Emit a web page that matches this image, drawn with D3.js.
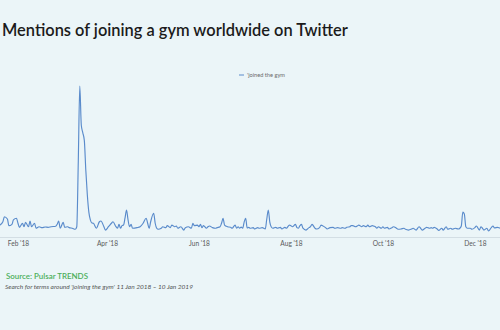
<!DOCTYPE html>
<html>
<head>
<meta charset="utf-8">
<script src="https://cdn.jsdelivr.net/npm/d3@7"></script>
<style>
  html, body { margin: 0; padding: 0; background: #ebf5f8; }
  svg { display: block; }
</style>
</head>
<body>
<svg id="chart" width="500" height="330"></svg>
<script>
// ---- data ----
const startDate = "2018-01-11";
const endDate = "2019-01-10";
const title = "Mentions of joining a gym worldwide on Twitter";
const seriesName = "'joined the gym";
const sourceText = "Source: Pulsar TRENDS";
const noteText = "Search for terms around 'joining the gym' 11 Jan 2018 \u2013 10 Jan 2019";
const tickDates = ["2018-02-01", "2018-04-01", "2018-06-01", "2018-08-01", "2018-10-01", "2018-12-01"];

// days since 11 Jan 2018
const dayIndex = [0,3,6,9,11,12,14,15,17,18,20,21,22,24,25,26,28,29,30,32,33,35,37,39,41,43,46,47,48,49,51,52,54,55,57,59,60,61,62,63,64,65,66,67,68,69,70,71,73,75,76,78,79,81,83,84,86,87,88,89,90,91,92,93,94,95,96,97,100,102,104,106,107,108,109,111,112,113,114,116,117,119,120,122,123,125,126,127,129,131,132,134,136,137,138,140,141,142,143,144,146,147,148,150,152,153,155,156,157,158,160,162,163,165,166,167,168,169,170,171,172,173,174,175,177,178,180,181,183,185,186,187,188,189,190,192,193,195,196,198,199,201,202,203,205,206,207,208,209,210,212,214,215,216,218,219,221,222,223,225,226,228,230,231,233,235,236,238,239,241,242,243,245,246,247,249,250,252,253,254,256,257,258,259,260,262,263,264,266,267,269,270,272,273,275,277,278,280,282,283,285,287,288,289,291,292,294,295,296,297,299,300,302,303,305,306,308,309,311,313,314,315,316,317,318,319,321,322,324,325,327,328,329,330,332,333,335,336,337,339,341,344,348,352,356,360,364];
// relative mention volume (peak = 100)
const mentions = [8,10,7,7.9,10.1,13.4,11.9,7.5,8.4,11.3,12.4,9.1,6.4,9.1,6.8,9.7,6.8,10.6,6.8,9.1,5.8,6.8,6.2,6.6,6.4,6.8,7.1,8.4,10.6,5.8,9.7,6.4,6.8,6.2,5.8,5.1,6.8,50,100,74,69,64,44,27.8,16.5,11.3,9.3,9.1,5.8,10.1,10.6,6.8,4.6,6.8,9.1,10.1,6.8,5.8,8.4,5.8,7.5,7.9,12.6,17.9,11.3,6.8,8.4,5.8,6.2,6.8,9.1,12.4,9.1,5.8,10.1,15.7,9.1,5.8,5.1,5.8,6.8,6.2,7.5,6.2,7.9,6.8,7.3,5.8,6.8,4.6,6.2,6.8,5.8,9.1,7.5,7.9,6.8,8.4,6.2,7.5,5.8,6.8,7.3,6.2,5.8,6.2,6.8,9.1,12.4,7.9,6.8,6.4,5.8,7.9,5.8,6.8,5.8,6.6,5.8,9.9,12.4,6.0,6.4,5.8,6.2,5.3,6.2,5.8,6.2,5.3,11.9,17.9,9.9,6.6,5.8,6.4,5.8,6.4,5.3,6.4,5.8,7.9,7.5,6.8,8.4,6.2,5.8,7.5,8.4,5.8,4.6,6.2,6.8,8.4,5.8,5.3,6.2,7.9,7.5,6.2,5.3,6.2,6.4,5.8,6.2,5.8,6.2,5.8,6.4,6.8,7.5,7.5,6.8,7.3,7.9,6.8,7.5,6.8,7.9,6.8,7.5,7.2,6.8,5.8,6.8,5.8,6.8,5.8,6.4,5.3,6.2,6.8,5.8,5.1,5.3,5.8,5.1,4.6,5.3,5.8,4.6,6.8,5.8,4.6,5.8,6.4,5.8,6.2,5.8,6.4,5.3,4.4,5.8,4.6,6.8,5.1,5.8,5.1,5.8,5.3,5.8,7.3,16.5,15.2,6.8,5.8,5.8,5.1,6.2,7.3,4.6,6.8,5.8,4.6,5.8,4.0,6.4,7.3,6.0,6.4,5.8,6.2,5.8,6.6,6.0,6.4,6.0];

// ---- drawing ----
const W = 500, H = 330;
const svg = d3.select("#chart");
const FONT = "Lato, 'Noto Sans', sans-serif";
const parse = d3.utcParse("%Y-%m-%d");
const t0 = parse(startDate), t1 = parse(endDate);

const data = dayIndex.map((d, i) => ({ date: d3.utcDay.offset(t0, d), value: mentions[i] }));

const x = d3.scaleUtc().domain([t0, t1]).range([-13.7, 535.2]);
const y = d3.scaleLinear().domain([0, 100]).range([237, 86]);

svg.append("rect").attr("width", W).attr("height", H).attr("fill", "#ebf5f8");

// scale a text's font size so it spans a given width
function fitWidth(sel, base, target) {
  sel.attr("font-size", base);
  const w = sel.node().getComputedTextLength();
  sel.attr("font-size", base * target / w);
  return sel;
}

// title
const tt = svg.append("text")
  .attr("x", 2).attr("y", 36)
  .attr("font-family", FONT).attr("font-weight", 600)
  .attr("fill", "#1b1b1b").text(title);
fitWidth(tt, 17, 346);

// x axis
const xAxis = d3.axisBottom(x)
  .tickValues(tickDates.map(parse))
  .tickFormat(d3.utcFormat("%b '%y"))
  .tickSize(0).tickPadding(4);
const gx = svg.append("g").attr("transform", "translate(0,237)").call(xAxis);
gx.select(".domain").attr("stroke", "#d3dee4").attr("stroke-width", 1).attr("d", `M0,0.5H${W}`);
gx.selectAll("text").attr("font-family", FONT).attr("font-size", 6.6).attr("fill", "#5a5a5a");

// line
const line = d3.line().x(d => x(d.date)).y(d => y(d.value)).curve(d3.curveMonotoneX);
svg.append("path").datum(data)
  .attr("d", line)
  .attr("fill", "none")
  .attr("stroke", "#5a8bcb")
  .attr("stroke-width", 1.15)
  .attr("stroke-linejoin", "round");

// legend
const lg = svg.append("g").attr("transform", "translate(239,75)");
lg.append("line").attr("x1", 0).attr("x2", 5).attr("y1", 0).attr("y2", 0)
  .attr("stroke", "#5a8bcb").attr("stroke-width", 1);
const lt = lg.append("text").attr("x", 8).attr("y", 2.2)
  .attr("font-family", FONT).attr("fill", "#6a6a6a").text(seriesName);
fitWidth(lt, 6.3, 38);

// footer
const st = svg.append("text").attr("x", 6).attr("y", 279)
  .attr("font-family", FONT).attr("font-weight", 600)
  .attr("fill", "#4caf5a").text(sourceText);
fitWidth(st, 8.6, 82);
const nt = svg.append("text").attr("x", 5).attr("y", 289)
  .attr("font-family", FONT).attr("font-style", "italic")
  .attr("fill", "#555").text(noteText);
fitWidth(nt, 6.2, 188);
</script>
</body>
</html>
